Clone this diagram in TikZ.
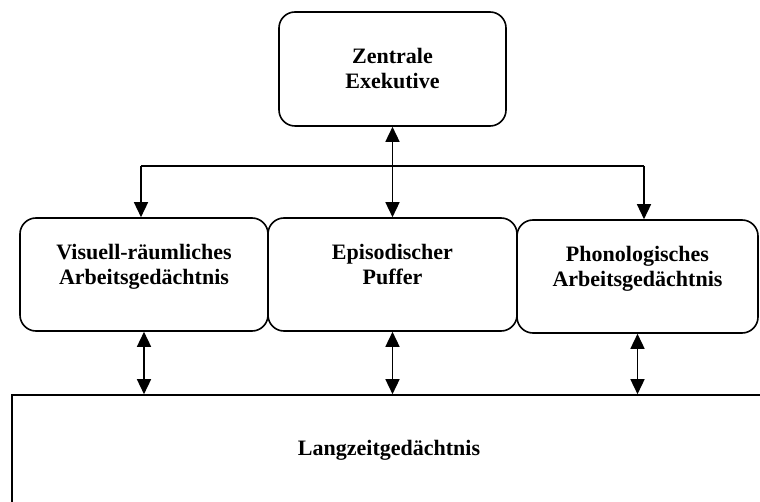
\documentclass[tikz,border=0pt]{standalone}
\usepackage{fontspec}
\setmainfont{Liberation Serif}
\usetikzlibrary{arrows.meta,positioning}

\tikzset{
  box/.style={draw, line width=1.6pt, rounded corners=16pt, inner sep=0pt},
  txt/.style={align=center, inner sep=0pt, font=\bfseries\fontsize{22}{25}\selectfont},
  arr/.style={line width=1.5pt, ->},
  dblarr/.style={line width=1.5pt, <->}
}

\begin{document}
\begin{tikzpicture}[x=1pt, y=-1pt, >={Triangle[length=15pt,width=14pt]}]
			% Рамка рисунка
			\useasboundingbox (0,0) rectangle (760,502);
			\clip (0,0) rectangle (760,502);
			
			% Центральный блок
			\node[box, minimum width=227pt, minimum height=114pt] (zent) at (392.5,69) {};
			\node[txt] (zenttxt) at (zent.center) {Zentrale\\Exekutive};
			
			% Три блока в ряд
			\node[box, minimum width=248pt, minimum height=113pt] (vis) at (144,274.5) {};
			\node[box, minimum width=249pt, minimum height=113pt] (epi) at (392.5,274.5) {};
			\node[box, minimum width=241pt, minimum height=113pt] (phon) at (637.5,276.5) {};
			\node[txt, below=27pt of vis.north] (vistxt) {Visuell-räumliches\\Arbeitsgedächtnis};
			\node[txt, below=27pt of epi.north] (epitxt) {Episodischer\\Puffer};
			\node[txt, below=27pt of phon.north] (phontxt) {Phonologisches\\Arbeitsgedächtnis};
			
			% Нижний блок (обрезан рамкой)
			\node[draw, line width=1.6pt, minimum width=788pt, minimum height=165pt, inner sep=0pt] (lzg) at (406,477.5) {};
			\node[txt] (lzgtxt) at (389,450) {Langzeitgedächtnis};
			
			% Шина от центрального блока
			\coordinate (busL) at (141,166);
			\coordinate (busR) at (644,166);
			\draw[line width=1.5pt] (busL) -- (busR);
			\draw[arr] (busL) -- (busL |- vis.north);
			\draw[arr] (busR) -- (busR |- phon.north);
			\draw[dblarr] (zent.south) -- (epi.north);
			
			% Связи с долговременной памятью
			\draw[dblarr] (vis.south) -- (vis.south |- lzg.north);
			\draw[dblarr] (epi.south) -- (epi.south |- lzg.north);
			\draw[dblarr] (phon.south) -- (phon.south |- lzg.north);
		\end{tikzpicture}
\end{document}
